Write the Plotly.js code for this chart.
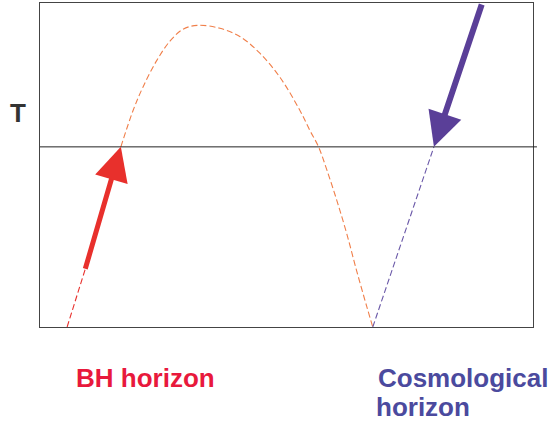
<!DOCTYPE html>
<html>
<head>
<meta charset="utf-8">
<script src="https://cdn.plot.ly/plotly-3.0.1.min.js"></script>
<style>html,body{margin:0;padding:0;background:#fff;}#chart{width:553px;height:424px;}</style>
</head>
<body>
<div id="chart"></div>
<script>
// Temperature curve (orange dashed)
const curveX = [1.64, 1.89, 2.09, 2.37, 2.64, 2.90, 3.19, 3.65, 4.06, 4.46, 4.87, 5.27, 5.48, 5.65, 5.82, 6.02, 6.22, 6.42, 6.63, 6.75];
const curveY = [5.56, 6.69, 7.41, 8.23, 8.83, 9.19, 9.31, 9.22, 8.96, 8.45, 7.70, 6.69, 6.05, 5.56, 4.84, 3.91, 2.89, 1.75, 0.62, 0.00];
// BH branch below the reference temperature (red dashed)
const bhX = [0.55, 0.91, 1.64];
const bhY = [0.00, 1.75, 5.56];
// Cosmological branch (purple dashed)
const cosX = [6.75, 7.99];
const cosY = [0.00, 5.56];
// Reference temperature level
const T0 = 5.56;
// Arrows: [tailX, tailY, tipX, tipY]
const bhArrow = [0.91, 1.75, 1.64, 5.56];
const cosArrow = [8.97, 10.0, 7.99, 5.56];
// Labels
const yLabel = "T";
const bhLabel = "BH horizon";
const cosLabel1 = "Cosmological";
const cosLabel2 = "horizon";

const RED = "#e8302c", RED_TXT = "#e8193c", PURPLE = "#5a3f98", PURPLE_TXT = "#4b4a9e", ORANGE = "#f07f4a";

const traces = [
  {x: curveX, y: curveY, mode: "lines", line: {color: ORANGE, width: 1.1, dash: "6px,3px", shape: "spline", smoothing: 1}, hoverinfo: "skip"},
  {x: bhX, y: bhY, mode: "lines", line: {color: RED, width: 1.1, dash: "6px,3px"}, hoverinfo: "skip"},
  {x: cosX, y: cosY, mode: "lines", line: {color: "#6a58a8", width: 1.1, dash: "6px,3px"}, hoverinfo: "skip"}
];

const fontFam = "Liberation Sans, Arial, sans-serif";
const layout = {
  width: 553, height: 424,
  margin: {l: 40, r: 20, t: 3, b: 97},
  paper_bgcolor: "#fff", plot_bgcolor: "#fff",
  showlegend: false,
  xaxis: {range: [0, 10], showgrid: false, zeroline: false, showticklabels: false, ticks: "",
          showline: true, mirror: true, linecolor: "#444", linewidth: 1.3, fixedrange: true},
  yaxis: {range: [0, 10], showgrid: false, zeroline: false, showticklabels: false, ticks: "",
          showline: true, mirror: true, linecolor: "#444", linewidth: 1.3, fixedrange: true},
  shapes: [
    {type: "line", xref: "paper", yref: "y", x0: 0, x1: 1.008, y0: T0, y1: T0, line: {color: "#222", width: 1}}
  ],
  annotations: [
    {x: bhArrow[2], y: bhArrow[3], ax: bhArrow[0], ay: bhArrow[1], xref: "x", yref: "y", axref: "x", ayref: "y",
     text: "", showarrow: true, arrowhead: 2, arrowwidth: 5, arrowsize: 1.35, arrowcolor: RED, standoff: 0},
    {x: cosArrow[2], y: cosArrow[3], ax: cosArrow[0], ay: cosArrow[1], xref: "x", yref: "y", axref: "x", ayref: "y",
     text: "", showarrow: true, arrowhead: 2, arrowwidth: 6, arrowsize: 1.15, arrowcolor: PURPLE, standoff: 0},
    {x: (18 - 40) / 493, y: (326.7 - 113) / 323.7, xref: "paper", yref: "paper", xanchor: "center", yanchor: "middle",
     text: "<b>" + yLabel + "</b>", showarrow: false, font: {family: fontFam, size: 26, color: "#333"}},
    {x: (74 - 40) / 493, y: (326.7 - 378) / 323.7, xref: "paper", yref: "paper", xanchor: "left", yanchor: "middle",
     text: "<b>" + bhLabel + "</b>", showarrow: false, font: {family: fontFam, size: 26, color: RED_TXT}},
    {x: (376 - 40) / 493, y: (326.7 - 378) / 323.7, xref: "paper", yref: "paper", xanchor: "left", yanchor: "middle",
     text: "<b>" + cosLabel1 + "</b>", showarrow: false, font: {family: fontFam, size: 26, color: PURPLE_TXT}},
    {x: (374 - 40) / 493, y: (326.7 - 407) / 323.7, xref: "paper", yref: "paper", xanchor: "left", yanchor: "middle",
     text: "<b>" + cosLabel2 + "</b>", showarrow: false, font: {family: fontFam, size: 26, color: PURPLE_TXT}}
  ]
};

Plotly.newPlot("chart", traces, layout, {displayModeBar: false, staticPlot: true});
</script>
</body>
</html>
